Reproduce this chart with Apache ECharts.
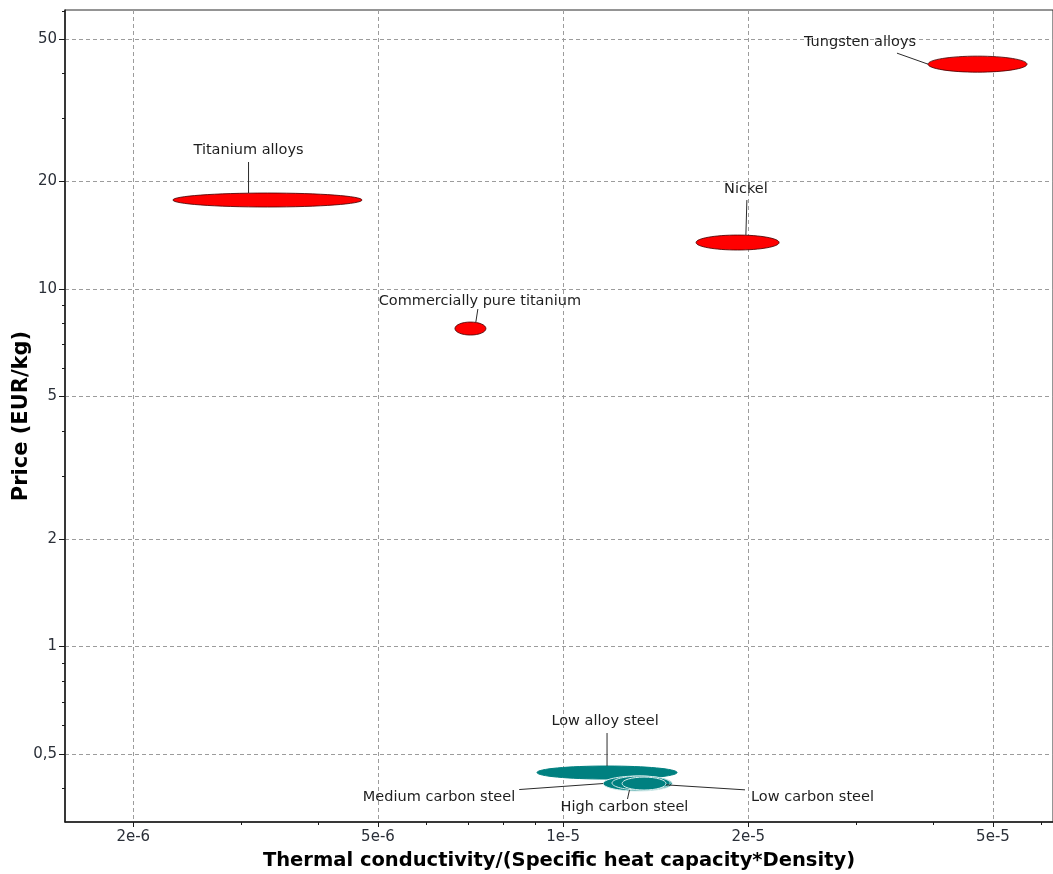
<!DOCTYPE html>
<html>
<head>
<meta charset="utf-8">
<script src="https://cdn.jsdelivr.net/npm/echarts@6/dist/echarts.min.js"></script>
<style>
  html, body { margin: 0; padding: 0; background: #fff; }
  #chart { width: 1053px; height: 874px; }
</style>
</head>
<body>
<div id="chart"></div>
<script>
// Material property ranges: thermal diffusivity k/(cp*rho) and price (EUR/kg)
const materials = [
  'Tungsten alloys', 'Titanium alloys', 'Commercially pure titanium', 'Nickel',
  'Low alloy steel', 'Medium carbon steel', 'High carbon steel', 'Low carbon steel'
];
const diffusivityLow  = [3.92e-5, 2.32e-6, 6.67e-6, 1.645e-5, 9.07e-6, 1.162e-5, 1.201e-5, 1.247e-5];
const diffusivityHigh = [5.68e-5, 4.71e-6, 7.49e-6, 2.245e-5, 1.532e-5, 1.504e-5, 1.493e-5, 1.47e-5];
const priceLow  = [40.4, 16.95, 7.43, 12.85, 0.4256, 0.3939, 0.3965, 0.3965];
const priceHigh = [44.8, 18.55, 8.08, 14.15, 0.4628, 0.4339, 0.4339, 0.431];
const family = ['nonferrous', 'nonferrous', 'nonferrous', 'nonferrous', 'steel', 'steel', 'steel', 'steel'];

// Axis ticks (log scales)
const xTickValues = [2e-6, 5e-6, 1e-5, 2e-5, 5e-5];
const xTickLabels = ['2e-6', '5e-6', '1e-5', '2e-5', '5e-5'];
const xMinorValues = [3e-6, 4e-6, 6e-6, 7e-6, 8e-6, 9e-6, 3e-5, 4e-5, 6e-5];
const yTickValues = [0.5, 1, 2, 5, 10, 20, 50];
const yTickLabels = ['0,5', '1', '2', '5', '10', '20', '50'];
const yMinorValues = [0.4, 0.6, 0.7, 0.8, 0.9, 3, 4, 6, 7, 8, 9, 30, 40, 60];
const xRange = [1.549e-6, 6.26e-5];
const yRange = [0.3227, 60.3];

// Annotation placement: anchor on the ellipse (in units of its radii),
// leader end and text position as pixel offsets from that anchor
const labelPlacement = [
  { anchor: [-1, 0],     lineEnd: [-31, -11], text: [-68, -22], align: 'center' },
  { anchor: [-0.2, -1],  lineEnd: [0, -31],   text: [0, -43],   align: 'center' },
  { anchor: [0.35, -1],  lineEnd: [2, -13],   text: [4, -21],   align: 'center' },
  { anchor: [0.2, -1],   lineEnd: [1, -35],   text: [0, -46],   align: 'center' },
  { anchor: [0, -1],     lineEnd: [0, -33],   text: [-2, -45],  align: 'center' },
  { anchor: [-1, 0],     lineEnd: [-84, 6],   text: [-88, 14],  align: 'right' },
  { anchor: [-0.4, 1],   lineEnd: [-2, 9],    text: [-5, 17],   align: 'center' },
  { anchor: [1, 0.2],    lineEnd: [79, 5],    text: [85, 12],   align: 'left' }
];

const familyStyle = {
  nonferrous: { fill: '#ff0000', stroke: '#400000', lineWidth: 0.8 },
  steel:      { fill: '#008080', stroke: '#d6ecec', lineWidth: 1 }
};

const lg = Math.log10;
const FONT = '"DejaVu Sans", Verdana, sans-serif';

const boxes = materials.map((name, i) => [
  i, lg(diffusivityLow[i]), lg(diffusivityHigh[i]), lg(priceLow[i]), lg(priceHigh[i])
]);

function labelFor(values, labels) {
  return function (v) {
    for (let i = 0; i < values.length; i++) {
      if (Math.abs(lg(values[i]) - v) < 1e-6) return labels[i];
    }
    return '';
  };
}

function ellipseGeom(api) {
  const p1 = api.coord([api.value(1), api.value(3)]);
  const p2 = api.coord([api.value(2), api.value(4)]);
  return {
    cx: (p1[0] + p2[0]) / 2,
    cy: (p1[1] + p2[1]) / 2,
    rx: Math.abs(p2[0] - p1[0]) / 2,
    ry: Math.abs(p2[1] - p1[1]) / 2
  };
}

function renderEllipse(params, api) {
  const i = api.value(0);
  const g = ellipseGeom(api);
  const st = familyStyle[family[i]];
  // the outermost steel grade has no light rim
  const stroke = (i === 4) ? st.fill : st.stroke;
  return {
    type: 'ellipse',
    shape: g,
    style: { fill: st.fill, stroke: stroke, lineWidth: st.lineWidth }
  };
}

function renderLabel(params, api) {
  const i = api.value(0);
  const g = ellipseGeom(api);
  const pl = labelPlacement[i];
  const ax = g.cx + pl.anchor[0] * g.rx;
  const ay = g.cy + pl.anchor[1] * g.ry;
  return {
    type: 'group',
    children: [
      {
        type: 'line',
        shape: { x1: ax, y1: ay, x2: ax + pl.lineEnd[0], y2: ay + pl.lineEnd[1] },
        style: { stroke: '#2b2b2b', lineWidth: 1 }
      },
      {
        type: 'text',
        x: ax + pl.text[0],
        y: ay + pl.text[1],
        style: {
          text: materials[i],
          fill: '#1e1e1e',
          font: '14.5px ' + FONT,
          align: pl.align,
          verticalAlign: 'middle'
        }
      }
    ]
  };
}

const gridLine = { show: true, lineStyle: { color: '#9c9c9c', type: [4, 3], width: 1 } };
const axisLineStyle = { show: true, onZero: false, lineStyle: { color: '#1a1a1a', width: 1.5 } };
const tickFont = { color: '#2a2f38', fontSize: 15, fontFamily: FONT };

const chart = echarts.init(document.getElementById('chart'), null, { renderer: 'canvas' });
chart.setOption({
  animation: false,
  backgroundColor: '#ffffff',
  grid: {
    left: 65, top: 10, right: 0, bottom: 52,
    containLabel: false, outerBoundsMode: 'none',
    show: true, borderColor: '#2a2a2a', borderWidth: 1, backgroundColor: 'transparent'
  },
  xAxis: [
    {
      type: 'value', min: lg(xRange[0]), max: lg(xRange[1]),
      name: 'Thermal conductivity/(Specific heat capacity*Density)',
      nameLocation: 'middle', nameGap: 29,
      nameTextStyle: { fontSize: 19.5, fontWeight: 'bold', color: '#000', fontFamily: FONT },
      axisLine: axisLineStyle,
      axisTick: { show: true, length: 5, customValues: xTickValues.map(lg), lineStyle: { color: '#1a1a1a' } },
      axisLabel: { ...tickFont, margin: 8, customValues: xTickValues.map(lg), formatter: labelFor(xTickValues, xTickLabels) },
      splitLine: gridLine
    },
    {
      type: 'value', min: lg(xRange[0]), max: lg(xRange[1]), position: 'bottom',
      axisLine: { show: false, onZero: false },
      axisTick: { show: true, length: 3, customValues: xMinorValues.map(lg), lineStyle: { color: '#1a1a1a' } },
      axisLabel: { show: false },
      splitLine: { show: false }
    }
  ],
  yAxis: [
    {
      type: 'value', min: lg(yRange[0]), max: lg(yRange[1]),
      name: 'Price (EUR/kg)',
      nameLocation: 'middle', nameGap: 33, nameRotate: 90, nameMoveOverlap: false,
      nameTextStyle: { fontSize: 21, fontWeight: 'bold', color: '#000', fontFamily: FONT },
      axisLine: axisLineStyle,
      axisTick: { show: true, length: 6, customValues: yTickValues.map(lg), lineStyle: { color: '#1a1a1a' } },
      axisLabel: { ...tickFont, margin: 8, customValues: yTickValues.map(lg), formatter: labelFor(yTickValues, yTickLabels) },
      splitLine: gridLine
    },
    {
      type: 'value', min: lg(yRange[0]), max: lg(yRange[1]), position: 'left',
      axisLine: { show: false, onZero: false },
      axisTick: { show: true, length: 3, customValues: yMinorValues.map(lg), lineStyle: { color: '#1a1a1a' } },
      axisLabel: { show: false },
      splitLine: { show: false }
    }
  ],
  series: [
    {
      type: 'custom', name: 'ranges', silent: true, clip: true,
      xAxisIndex: 0, yAxisIndex: 0,
      encode: { x: [1, 2], y: [3, 4] },
      renderItem: renderEllipse,
      data: boxes, z: 3
    },
    {
      type: 'custom', name: 'labels', silent: true,
      xAxisIndex: 0, yAxisIndex: 0,
      encode: { x: [1, 2], y: [3, 4] },
      renderItem: renderLabel,
      data: boxes, z: 4
    }
  ]
});
</script>
</body>
</html>
